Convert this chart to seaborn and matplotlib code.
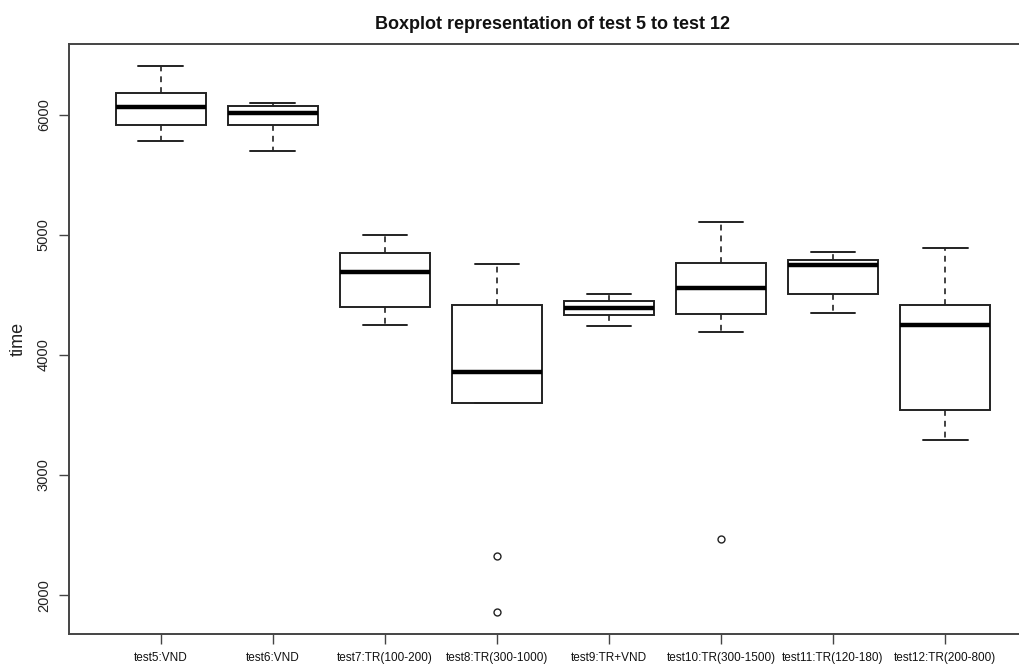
import matplotlib
matplotlib.use("Agg")
import matplotlib.pyplot as plt
from matplotlib import font_manager
import pandas as pd
import seaborn as sns

# test labels as on the x axis
tests = ["test5:VND", "test6:VND", "test7:TR(100-200)", "test8:TR(300-1000)",
         "test9:TR+VND", "test10:TR(300-1500)", "test11:TR(120-180)",
         "test12:TR(200-800)"]

times_test5 = [5783, 5917, 6067, 6183, 6408]
times_test6 = [5700, 5917, 6017, 6075, 6100]
times_test7 = [4250, 4400, 4692, 4850, 5000]
times_test8 = [1858, 2325, 3600, 3700, 3858, 4200, 4417, 4600, 4758]
times_test9 = [4242, 4333, 4392, 4450, 4508]
times_test10 = [2467, 4192, 4342, 4450, 4558, 4650, 4767, 4900, 5108]
times_test11 = [4350, 4508, 4750, 4792, 4858]
times_test12 = [3292, 3542, 4250, 4417, 4892]

all_times = [times_test5, times_test6, times_test7, times_test8,
             times_test9, times_test10, times_test11, times_test12]

df = pd.DataFrame({
    "test": [t for t, vals in zip(tests, all_times) for _ in vals],
    "time": [v for vals in all_times for v in vals],
})

sns.set_theme(style="white")
names = {f.name for f in font_manager.fontManager.ttflist}
narrow = "Liberation Sans Narrow" if "Liberation Sans Narrow" in names else "Liberation Sans"
is_narrow = narrow != "Liberation Sans"
plt.rcParams["font.family"] = ["Liberation Sans", "DejaVu Sans"]

fig = plt.figure(figsize=(10.2, 6.64), dpi=100)
ax = fig.add_axes([69 / 1020, 30 / 664, 968 / 1020, 590 / 664])

edge = "#222222"
sns.boxplot(
    data=df, x="test", y="time", order=tests, ax=ax,
    width=0.8, color="white", linecolor=edge, linewidth=1.4,
    whis=1.5,
    boxprops=dict(facecolor="white", edgecolor=edge, linewidth=1.4),
    whiskerprops=dict(linestyle=(0, (3.5, 3)), color=edge, linewidth=1.2),
    capprops=dict(color=edge, linewidth=1.4),
    medianprops=dict(color="black", linewidth=3.2),
    flierprops=dict(marker="o", markerfacecolor="none", markeredgecolor=edge,
                    markersize=5, markeredgewidth=1.0),
)

ax.set_xlim(-0.82, 7.82)
ax.set_ylim(1676, 6590)
ax.set_yticks([2000, 3000, 4000, 5000, 6000])

for side in ["left", "bottom", "top", "right"]:
    ax.spines[side].set_color("#444444")
    ax.spines[side].set_linewidth(1.4)

ax.tick_params(axis="both", direction="out", length=7, width=1.0,
               color="#444444", left=True, bottom=True)
ax.tick_params(axis="x", pad=6)
ax.tick_params(axis="y", pad=6)
for lab in ax.get_xticklabels():
    lab.set_fontfamily([narrow, "DejaVu Sans"])
    lab.set_fontsize(9.5 if is_narrow else 8.5)
    lab.set_color("#111111")
for lab in ax.get_yticklabels():
    lab.set_rotation(90)
    lab.set_va("center")
    lab.set_fontsize(10.5)
    lab.set_color("#222222")

ax.set_xlabel("")
ax.set_ylabel("time", fontsize=13, color="#222222", labelpad=7)
ax.set_title("Boxplot representation of test 5 to test 12",
             fontsize=14.5 if is_narrow else 13, fontweight="bold", pad=11,
             fontfamily=[narrow, "DejaVu Sans"], color="#111111")

fig.savefig("out.png", dpi=100, facecolor="white")
